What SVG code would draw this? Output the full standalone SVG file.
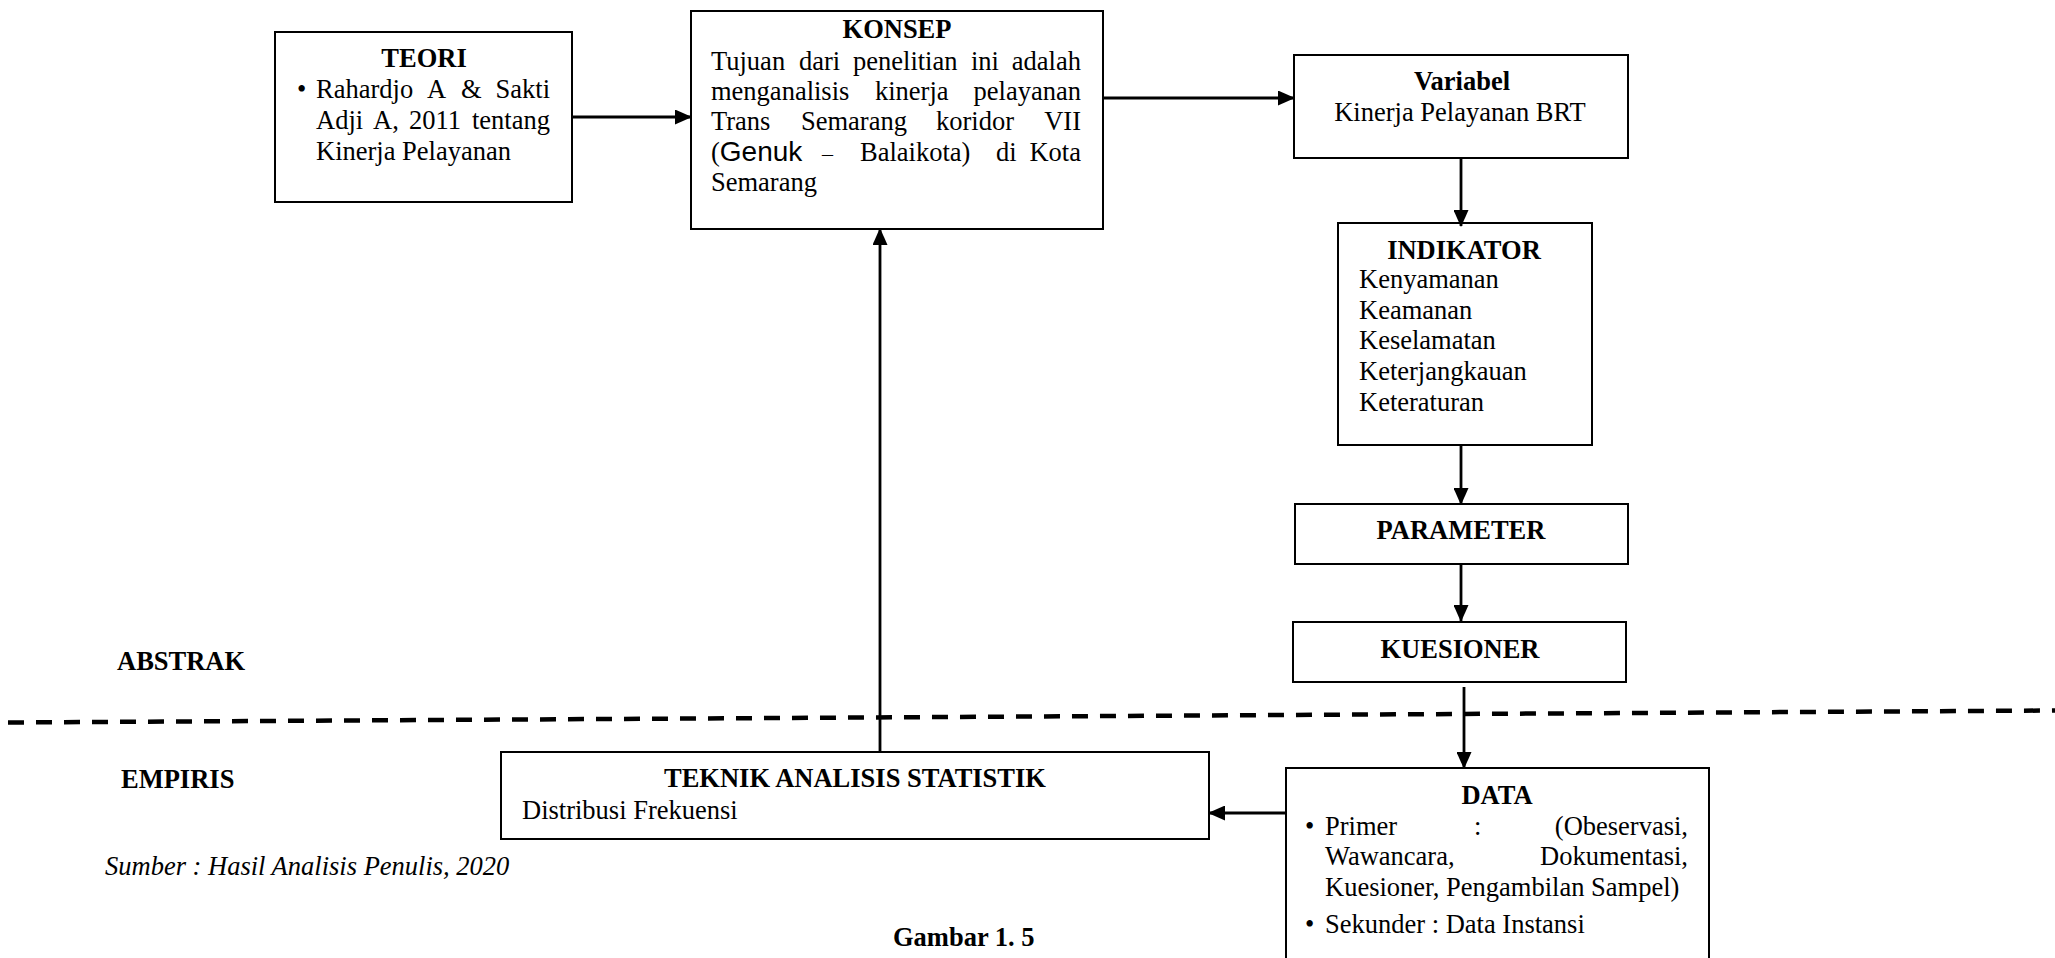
<svg xmlns="http://www.w3.org/2000/svg" width="2055" height="958" viewBox="0 0 2055 958">
<defs>
<marker id="ah" markerUnits="userSpaceOnUse" markerWidth="17" markerHeight="15" refX="16" refY="7.5" orient="auto"><path d="M0,0 L17,7.5 L0,15 z" fill="#000"/></marker>
</defs>
<style>
.box{fill:#fff;stroke:#000;stroke-width:2}
.t{font-family:"Liberation Serif","Times New Roman",serif;font-size:26.5px;fill:#000}
.b{font-weight:bold}
.c{text-anchor:middle}
.e{text-anchor:end}
.i{font-style:italic}
.s{font-family:"Liberation Sans",Arial,sans-serif}
#connectors line{stroke:#000;stroke-width:2.8;marker-end:url(#ah)}
.dash{stroke:#000;stroke-width:4.5;stroke-dasharray:16 12;fill:none}
</style>
<rect width="2055" height="958" fill="#fff"/>

<line class="dash" x1="8" y1="722.5" x2="2055" y2="710.5"/>

<g id="teori">
<rect class="box" x="275" y="32" width="297" height="170"/>
<text class="t b c" x="424" y="67">TEORI</text>
<text class="t" x="297" y="98">•</text>
<text class="t" y="98"><tspan x="316">Rahardjo</tspan><tspan x="427">A</tspan><tspan x="461">&amp;</tspan><tspan x="550" text-anchor="end">Sakti</tspan></text>
<text class="t" y="129"><tspan x="316">Adji</tspan><tspan x="373">A,</tspan><tspan x="409">2011</tspan><tspan x="550" text-anchor="end">tentang</tspan></text>
<text class="t" x="316" y="160">Kinerja Pelayanan</text>
</g>

<g id="konsep">
<rect class="box" x="691" y="11" width="412" height="218"/>
<text class="t b c" x="897" y="38">KONSEP</text>
<text class="t" y="70"><tspan x="711">Tujuan</tspan><tspan x="799">dari</tspan><tspan x="853">penelitian</tspan><tspan x="971">ini</tspan><tspan x="1081" text-anchor="end">adalah</tspan></text>
<text class="t" y="100"><tspan x="711">menganalisis</tspan><tspan x="875">kinerja</tspan><tspan x="1081" text-anchor="end">pelayanan</tspan></text>
<text class="t" y="130"><tspan x="711">Trans</tspan><tspan x="801">Semarang</tspan><tspan x="936">koridor</tspan><tspan x="1081" text-anchor="end">VII</tspan></text>
<text class="t" y="161"><tspan x="711">(</tspan><tspan class="s" font-size="28">Genuk</tspan><tspan x="822" font-size="22">–</tspan><tspan x="860">Balaikota)</tspan><tspan x="996">di</tspan><tspan x="1081" text-anchor="end">Kota</tspan></text>
<text class="t" x="711" y="191">Semarang</text>
</g>

<g id="variabel">
<rect class="box" x="1294" y="55" width="334" height="103"/>
<text class="t b c" x="1462" y="90">Variabel</text>
<text class="t c" x="1460" y="121">Kinerja Pelayanan BRT</text>
</g>

<g id="indikator">
<rect class="box" x="1338" y="223" width="254" height="222"/>
<text class="t b c" x="1464" y="259">INDIKATOR</text>
<text class="t" x="1359" y="288">Kenyamanan</text>
<text class="t" x="1359" y="319">Keamanan</text>
<text class="t" x="1359" y="349">Keselamatan</text>
<text class="t" x="1359" y="380">Keterjangkauan</text>
<text class="t" x="1359" y="411">Keteraturan</text>
</g>

<g id="parameter">
<rect class="box" x="1295" y="504" width="333" height="60"/>
<text class="t b c" x="1461" y="539">PARAMETER</text>
</g>

<g id="kuesioner">
<rect class="box" x="1293" y="622" width="333" height="60"/>
<text class="t b c" x="1460" y="658">KUESIONER</text>
</g>

<g id="data">
<rect class="box" x="1286" y="768" width="423" height="200"/>
<text class="t b c" x="1497" y="804">DATA</text>
<text class="t" x="1305" y="835">•</text>
<text class="t" y="835"><tspan x="1325">Primer</tspan><tspan x="1474">:</tspan><tspan x="1688" text-anchor="end">(Obeservasi,</tspan></text>
<text class="t" y="865"><tspan x="1325">Wawancara,</tspan><tspan x="1688" text-anchor="end">Dokumentasi,</tspan></text>
<text class="t" x="1325" y="896">Kuesioner, Pengambilan Sampel)</text>
<text class="t" x="1305" y="933">•</text>
<text class="t" x="1325" y="933">Sekunder : Data Instansi</text>
</g>

<g id="teknik">
<rect class="box" x="501" y="752" width="708" height="87"/>
<text class="t b c" x="855" y="787">TEKNIK ANALISIS STATISTIK</text>
<text class="t" x="522" y="819" font-size="29">Distribusi Frekuensi</text>
</g>

<g id="labels">
<text class="t b" x="117" y="670" font-size="29">ABSTRAK</text>
<text class="t b" x="121" y="788" font-size="29">EMPIRIS</text>
<text class="t i" x="105" y="875">Sumber : Hasil Analisis Penulis, 2020</text>
<text class="t b" x="893" y="946" font-size="29">Gambar 1. 5</text>
</g>

<g id="connectors">
<line x1="572" y1="117" x2="691" y2="117"/>
<line x1="1103" y1="98" x2="1294" y2="98"/>
<line x1="1461" y1="158" x2="1461" y2="226"/>
<line x1="1461" y1="445" x2="1461" y2="504"/>
<line x1="1461" y1="564" x2="1461" y2="621"/>
<line x1="1464" y1="687" x2="1464" y2="768"/>
<line x1="1286" y1="813" x2="1209" y2="813"/>
<line x1="880" y1="752" x2="880" y2="229"/>
</g>
</svg>
